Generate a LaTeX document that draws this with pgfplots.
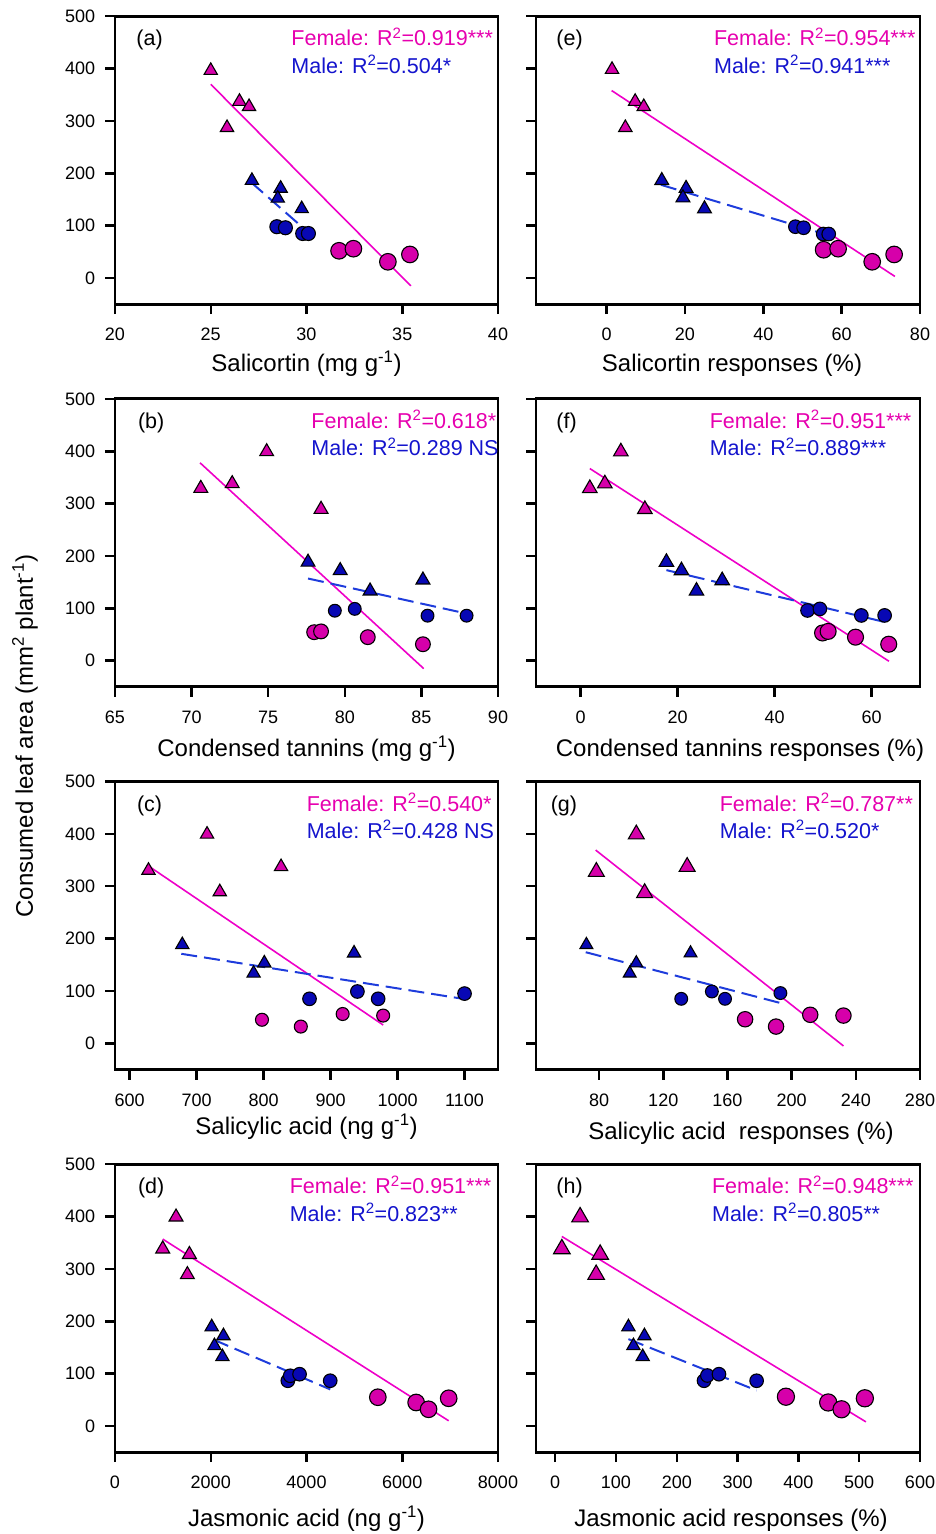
\documentclass[border=0pt]{standalone}
\usepackage{fontspec}
\setmainfont{Liberation Sans}
\usepackage{pgfplots}
\pgfplotsset{compat=1.18}
\definecolor{femfill}{RGB}{214,0,170}
\definecolor{femline}{RGB}{238,0,200}
\definecolor{femtext}{RGB}{230,0,175}
\definecolor{malefill}{RGB}{8,8,180}
\definecolor{maleline}{RGB}{30,60,220}
\definecolor{maletext}{RGB}{20,20,205}
\pgfplotsset{
  myax/.style={
    scale only axis, width=383pt, height=288pt, anchor=south west,
    ymin=-50, ymax=500, ytick={0,100,...,500},
    tick align=outside, xtick pos=left, ytick pos=left,
    major tick length=10pt,
    line width=2.9pt,
    axis line style={line width=2.9pt},
    every outer x axis line/.append style={line width=2.9pt},
    every outer y axis line/.append style={line width=2.9pt},
    major tick style={line width=2.5pt, black},
    tick label style={font=\fontsize{18}{20}\selectfont},
    /pgf/number format/assume math mode=true,
    /pgf/number format/set thousands separator={},
    scaled ticks=false,
    xticklabel style={anchor=base, yshift=-26.5pt},
    yticklabel style={anchor=east, xshift=-5pt},
    every axis x label/.style={at={(axis description cs:0.5,0)}, anchor=base, font=\fontsize{24}{28}\selectfont},
    clip=false,
  },
  fT/.style={only marks, mark=triangle*, mark size=#1pt, mark options={fill=femfill, draw=black, line width=1.1pt, yshift=-2pt}},
  mT/.style={only marks, mark=triangle*, mark size=#1pt, mark options={fill=malefill, draw=black, line width=1.1pt, yshift=-2pt}},
  fC/.style={only marks, mark=*, mark size=#1pt, mark options={fill=femfill, draw=black, line width=1.1pt}},
  mC/.style={only marks, mark=*, mark size=#1pt, mark options={fill=malefill, draw=black, line width=1.1pt}},
  femL/.style={no marks, femline, line width=1.6pt},
  maleL/.style={no marks, maleline, line width=2pt, dash pattern=on 16pt off 7pt},
}
\newcommand{\annot}[5]{%
  \node[anchor=base west, font=\fontsize{21.5}{24}\selectfont] at ([xshift=#1pt,yshift=-29.5pt]rel axis cs:0,1) {(#3)};
  \node[anchor=base west, font=\fontsize{21.5}{24}\selectfont, text=femtext] at ([xshift=#2pt,yshift=-29.5pt]rel axis cs:0,1) {Female: R\textsuperscript{2}=#4};
  \node[anchor=base west, font=\fontsize{21.5}{24}\selectfont, text=maletext] at ([xshift=#2pt,yshift=-57pt]rel axis cs:0,1) {Male: R\textsuperscript{2}=#5};
}
\begin{document}
\begin{tikzpicture}
\useasboundingbox (0,0) rectangle (936pt,-1534pt);
\node[rotate=90, font=\fontsize{24}{28}\selectfont] at (25pt,-736pt) {Consumed leaf area (mm\textsuperscript{2} plant\textsuperscript{-1})};

% (a)
\begin{axis}[myax, at={(115pt,-304.2pt)}, xmin=20, xmax=40, xtick={20,25,30,35,40},
  xlabel={Salicortin (mg g\textsuperscript{-1})}, xlabel style={yshift=-67.5pt}]
\addplot[femL] coordinates {(25.0,370) (35.45,-15)};
\addplot[maleL] coordinates {(27.1,183) (29.85,95)};
\addplot[mT=7.7] coordinates {(27.15,190) (28.65,175) (28.5,156) (29.75,136)};
\addplot[mC=7.0] coordinates {(28.45,98) (28.9,96) (29.8,85) (30.1,85)};
\addplot[fT=7.7] coordinates {(25.0,400) (26.5,341) (27.0,331) (25.85,291)};
\addplot[fC=8.3] coordinates {(31.7,52) (32.45,56) (34.25,31) (35.4,45)};
\annot{16.7}{171.7}{a}{0.919***}{0.504*}
\end{axis}

% (e)
\begin{axis}[myax, at={(536pt,-304.2pt)}, width=384pt, xmin=-18, xmax=80, xtick={0,20,40,60,80}, yticklabels={},
  xlabel={Salicortin responses (\%)}, xlabel style={yshift=-67.5pt, xshift=4pt}]
\addplot[femL] coordinates {(1.3,358) (73.6,3)};
\addplot[maleL] coordinates {(13.9,178) (56.5,82)};
\addplot[mT=8.0] coordinates {(14.1,190) (20.3,175) (19.5,157) (25.0,136)};
\addplot[mC=6.8] coordinates {(48.2,98) (50.3,96) (55.3,84) (56.7,84)};
\addplot[fT=7.7] coordinates {(1.4,402) (7.3,341) (9.5,331) (4.8,291)};
\addplot[fC=8.3] coordinates {(55.4,54) (59.1,56) (67.8,31) (73.4,45)};
\annot{15.7}{173.3}{e}{0.954***}{0.941***}
\end{axis}

% (b)
\begin{axis}[myax, at={(115pt,-686.9pt)}, xmin=65, xmax=90, xtick={65,70,75,80,85,90},
  xlabel={Condensed tannins (mg g\textsuperscript{-1})}, xlabel style={yshift=-70pt}]
\addplot[femL] coordinates {(70.55,378) (85.15,-15)};
\addplot[maleL] coordinates {(77.6,157) (87.8,91)};
\addplot[mT=8.0] coordinates {(77.6,192) (79.7,176) (81.65,137) (85.1,158)};
\addplot[mC=6.4] coordinates {(79.35,95.5) (80.65,99) (85.4,86) (87.95,86)};
\addplot[fT=8.0] coordinates {(74.9,403) (70.6,333) (72.65,342) (78.45,293)};
\addplot[fC=7.4] coordinates {(78.0,54.5) (78.45,56) (81.5,45) (85.1,31.5)};
\annot{18.3}{191.7}{b}{0.618*}{0.289 NS}
\end{axis}

% (f)
\begin{axis}[myax, at={(536pt,-686.9pt)}, width=384pt, xmin=-9.2, xmax=70, xtick={0,20,40,60}, yticklabels={},
  xlabel={Condensed tannins responses (\%)}, xlabel style={yshift=-70pt, xshift=12pt}]
\addplot[femL] coordinates {(1.9,367) (63.6,-1)};
\addplot[maleL] coordinates {(17.7,173) (62.7,74)};
\addplot[mT=8.4] coordinates {(17.7,192) (20.8,176) (23.9,137) (29.2,157)};
\addplot[mC=6.8] coordinates {(46.8,96) (49.35,99) (57.9,86.5) (62.7,86.5)};
\addplot[fT=8.4] coordinates {(8.3,403) (1.9,333) (5.0,342) (13.25,293)};
\addplot[fC=8.0] coordinates {(49.9,53) (51.05,56) (56.7,45) (63.55,31.5)};
\annot{15.7}{169}{f}{0.951***}{0.889***}
\end{axis}

% (c)
\begin{axis}[myax, at={(115pt,-1069.5pt)}, xmin=578, xmax=1150, xtick={600,700,...,1100},
  xlabel={Salicylic acid (ng g\textsuperscript{-1})}, xlabel style={yshift=-65pt}]
\addplot[femL] coordinates {(628.8,338) (978.5,35)};
\addplot[maleL] coordinates {(677,171) (1100,84.5)};
\addplot[mT=7.7] coordinates {(678.5,192) (785,137.5) (801,157) (935,176)};
\addplot[mC=6.8] coordinates {(868.5,85) (940,99) (971,85) (1100,95)};
\addplot[fT=7.7] coordinates {(628,334) (715.5,403) (734.5,293) (826,341)};
\addplot[fC=6.5] coordinates {(797.5,45) (855.5,32) (918,56) (978.5,53)};
\annot{17.3}{187}{c}{0.540*}{0.428 NS}
\end{axis}

% (g)
\begin{axis}[myax, at={(536pt,-1069.5pt)}, width=384pt, xmin=40.7, xmax=280, xtick={80,120,...,280}, yticklabels={},
  xlabel={Salicylic acid\ \ responses (\%)}, xlabel style={yshift=-70pt, xshift=13pt}]
\addplot[femL] coordinates {(77.9,369) (232.3,-5)};
\addplot[maleL] coordinates {(71.7,174) (193,77)};
\addplot[mT=7.4] coordinates {(72.1,192) (99.1,137.5) (103.2,157) (137,176)};
\addplot[mC=6.4] coordinates {(131.2,85) (150.3,99) (158.5,85) (193,96)};
\addplot[fT=9.2] coordinates {(103.2,403) (78.3,331.5) (108.4,291) (134.9,341)};
\addplot[fC=7.7] coordinates {(171,46) (190.3,32) (211.6,54.5) (232.3,53)};
\annot{10}{179}{g}{0.787**}{0.520*}
\end{axis}

% (d)
\begin{axis}[myax, at={(115pt,-1452.2pt)}, xmin=0, xmax=8000, xtick={0,2000,...,8000},
  xlabel={Jasmonic acid (ng g\textsuperscript{-1})}, xlabel style={yshift=-74pt}]
\addplot[femL] coordinates {(997,357) (6970,10)};
\addplot[maleL] coordinates {(2056,165) (4495,70)};
\addplot[mT=7.7] coordinates {(2020,193) (2265,176) (2077,157) (2244,136)};
\addplot[mC=6.8] coordinates {(3610,86.5) (3660,96) (3855,99) (4495,86.5)};
\addplot[fT=8.0] coordinates {(1275,403) (997,342) (1554,331.5) (1512,293)};
\addplot[fC=8.3] coordinates {(5490,55) (6290,45) (6550,32) (6970,53)};
\annot{18.3}{170}{d}{0.951***}{0.823**}
\end{axis}

% (h)
\begin{axis}[myax, at={(536pt,-1452.2pt)}, width=384pt, xmin=-31.5, xmax=600, xtick={0,100,...,600}, yticklabels={},
  xlabel={Jasmonic acid responses (\%)}, xlabel style={yshift=-74pt, xshift=3pt}]
\addplot[femL] coordinates {(11,362) (511,8)};
\addplot[maleL] coordinates {(120.5,166) (331.3,68)};
\addplot[mT=7.7] coordinates {(120.5,193) (146.8,176) (128.7,157) (144,136)};
\addplot[mC=6.8] coordinates {(244.8,86.5) (250.3,96.5) (269.4,99) (331.3,86.5)};
\addplot[fT=9.6] coordinates {(41,403) (11,342) (74,331.5) (67.4,293)};
\addplot[fC=8.6] coordinates {(379.5,56) (449,45) (471,32) (509.3,53)};
\annot{15.7}{171.3}{h}{0.948***}{0.805**}
\end{axis}
\end{tikzpicture}
\end{document}
